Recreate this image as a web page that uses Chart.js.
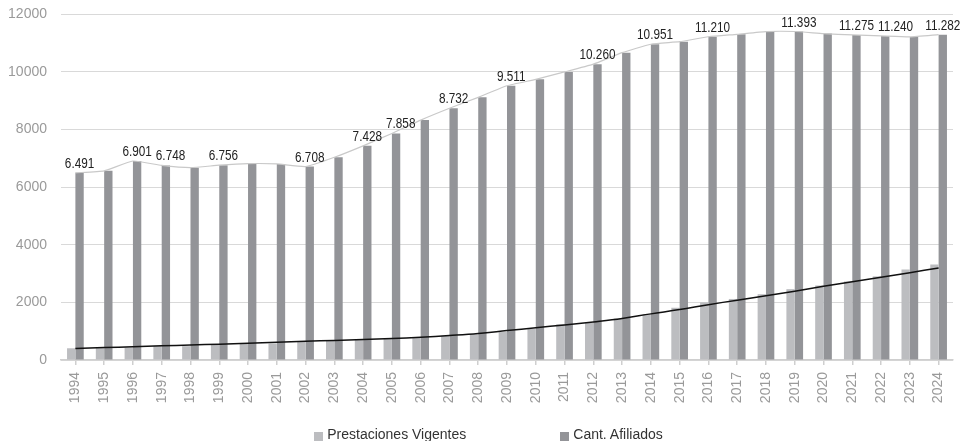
<!DOCTYPE html>
<html><head><meta charset="utf-8">
<script src="https://cdn.jsdelivr.net/npm/chart.js@4.4.1/dist/chart.umd.min.js"></script>
<style>
html,body{margin:0;padding:0;background:#fff;}
#wrap{position:relative;width:977px;height:441px;overflow:hidden;background:#fff;}
#c{position:absolute;left:0;top:0;}
#legend{position:absolute;left:0;top:427px;width:977px;display:flex;justify-content:center;gap:94px;font:14px "Liberation Sans",Arial,sans-serif;color:#333;line-height:14px;white-space:nowrap;}
.item{display:flex;align-items:center;}
.box{width:9px;height:9px;margin-right:4px;position:relative;top:2px;}
</style></head><body>
<div id="wrap"><canvas id="c" width="977" height="441"></canvas><div id="legend"></div></div>
<script>
const years = ['1994','1995','1996','1997','1998','1999','2000','2001','2002','2003','2004','2005','2006','2007','2008','2009','2010','2011','2012','2013','2014','2015','2016','2017','2018','2019','2020','2021','2022','2023','2024'];
const prestacionesVigentes = [407,415,432,490,480,537,562,572,653,678,702,737,772,842,888,970,1088,1239,1285,1440,1590,1812,2000,2117,2282,2457,2584,2724,2900,3135,3311];
const cantAfiliados = [6491,6560,6901,6748,6670,6756,6810,6800,6708,7030,7428,7858,8320,8732,9110,9511,9735,9990,10260,10660,10951,11040,11210,11295,11390,11393,11320,11275,11240,11205,11282];
const tendenciaPrestaciones = [400,430,460,490,520,550,585,615,650,680,710,745,790,850,920,1020,1120,1215,1320,1440,1600,1750,1920,2075,2230,2385,2555,2715,2870,3030,3190];
const labeledYears = ['1994','1996','1997','1999','2002','2004','2005','2007','2009','2012','2014','2016','2019','2021','2022','2024'];
const yTicks = [0,2000,4000,6000,8000,10000,12000];

const COL_LIGHT = '#bcbdc0';
const COL_DARK = '#939498';
const AXIS_FONT = {family:'"Liberation Sans", Arial, sans-serif', size:14};

function fmt(n){ return String(n).replace(/\B(?=(\d{3})+(?!\d))/g,'.'); }

const labelPlugin = {
  id:'afilLabels',
  afterDatasetsDraw(chart){
    const meta = chart.getDatasetMeta(1);
    const ctx = chart.ctx;
    const sx = 0.84;
    ctx.save();
    ctx.font = '14px "Liberation Sans", Arial, sans-serif';
    ctx.fillStyle = '#222';
    ctx.textAlign = 'left';
    ctx.textBaseline = 'alphabetic';
    let prevRight = -Infinity;
    years.forEach((yr,i)=>{
      if(!labeledYears.includes(yr)) return;
      const el = meta.data[i];
      const t = fmt(cantAfiliados[i]);
      const w = ctx.measureText(t).width * sx;
      let left = el.x - w/2;
      if(left < prevRight + 4) left = prevRight + 4;
      ctx.save();
      ctx.translate(left, el.y - 5);
      ctx.scale(sx, 1);
      ctx.fillText(t, 0, 0);
      ctx.restore();
      prevRight = left + w;
    });
    ctx.restore();
  }
};

const chart = new Chart(document.getElementById('c'), {
  data:{
    labels: years,
    datasets:[
      {type:'bar', label:'Prestaciones Vigentes', data:prestacionesVigentes, backgroundColor:COL_LIGHT, categoryPercentage:0.58, barPercentage:1.0, order:2},
      {type:'bar', label:'Cant. Afiliados', data:cantAfiliados, backgroundColor:COL_DARK, categoryPercentage:0.58, barPercentage:1.0, order:2},
      {type:'line', label:'afiliados_linea', data:cantAfiliados, borderColor:'#c9c9c9', borderWidth:1.2, pointRadius:0, tension:0.15, fill:false, order:1},
      {type:'line', label:'tendencia', data:tendenciaPrestaciones, borderColor:'#111', borderWidth:1.5, pointRadius:0, tension:0.4, fill:false, order:0}
    ]
  },
  options:{
    responsive:false,
    animation:false,
    devicePixelRatio:1,
    layout:{padding:{left:8,right:24,top:14,bottom:37}},
    plugins:{legend:{display:false}, tooltip:{enabled:false}},
    scales:{
      x:{
        afterFit(s){ s.paddingLeft = 0; s.paddingRight = 0; s.height = 44; },
        grid:{drawOnChartArea:false, drawTicks:true, tickLength:5, offset:false, color:'#cfcfcf', lineWidth:1.5},
        border:{display:true, color:'#cfcfcf', width:1.5},
        ticks:{minRotation:90, maxRotation:90, autoSkip:false, color:'#9a9a9a', font:AXIS_FONT, padding:7}
      },
      y:{
        min:0, max:12000,
        afterBuildTicks(axis){ axis.ticks = yTicks.map(v=>({value:v})); },
        afterFit(s){ s.paddingTop = 0; s.paddingBottom = 0; s.width = 53; },
        grid:{color:'#d9d9d9', lineWidth:1, drawTicks:false},
        border:{display:false},
        ticks:{color:'#9a9a9a', font:AXIS_FONT, padding:14, callback:v=>String(v)}
      }
    }
  },
  plugins:[labelPlugin]
});

const lg = document.getElementById('legend');
chart.data.datasets.filter(d=>d.type==='bar').forEach(d=>{
  const it = document.createElement('div'); it.className='item';
  const b = document.createElement('span'); b.className='box'; b.style.background=d.backgroundColor;
  const s = document.createElement('span'); s.textContent = d.label;
  it.appendChild(b); it.appendChild(s); lg.appendChild(it);
});
</script>
</body></html>
